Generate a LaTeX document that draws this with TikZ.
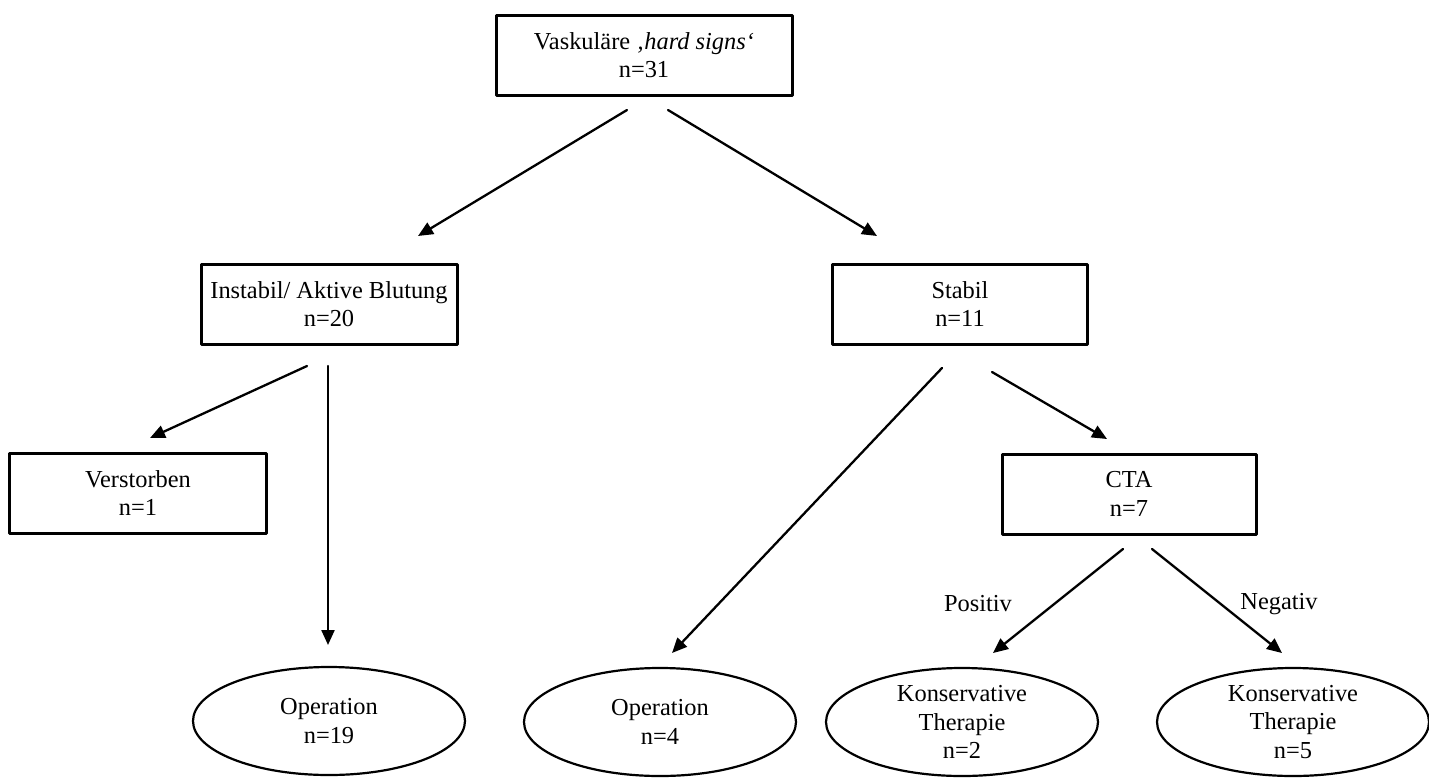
\documentclass[tikz,border=0pt]{standalone}
\usepackage{fontspec}
\setmainfont{Liberation Serif}
\usetikzlibrary{arrows.meta,shapes.geometric}

\tikzset{
  txt/.style={font=\fontsize{24.4}{28.5}\selectfont, align=center, inner sep=0pt},
  box/.style={txt, draw, line width=3pt, minimum height=80pt},
  oval/.style={txt, draw, ellipse, line width=2.2pt, minimum width=272pt, minimum height=108pt},
  arr/.style={line width=2.3pt, -{Triangle[length=15pt,width=13pt]}}
}

\begin{document}
\begin{tikzpicture}[x=1pt,y=-1pt,line cap=round,line join=round]
  \useasboundingbox (0,0) rectangle (1429,779);
  % boxes
  \node[box, minimum width=296pt] (hard) at (644,55) {Vaskuläre \textit{‚hard signs‘}\\n=31};
  \node[box, minimum width=256pt] (instabil) at (329,304) {Instabil/ Aktive Blutung\\n=20};
  \node[box, minimum width=255pt] (stabil) at (960,304) {Stabil\\n=11};
  \node[box, minimum width=257pt] (verstorben) at (138,493) {Verstorben\\n=1};
  \node[box, minimum width=254pt] (cta) at (1129,494) {CTA\\n=7};
  % ovals
  \node[oval] (op19) at (329,721) {Operation\\n=19};
  \node[oval] (op4) at (660,722) {Operation\\n=4};
  \node[oval] (kons2) at (962,722) {Konservative\\Therapie\\n=2};
  \node[oval] (kons5) at (1293,722) {Konservative\\Therapie\\n=5};
  % arrow ends
  \coordinate (hard-l) at (627,110);
  \coordinate (hard-r) at (668,110);
  \coordinate (instabil-in) at (418,236);
  \coordinate (stabil-in) at (877,236);
  \coordinate (instabil-l) at (307,366);
  \coordinate (instabil-r) at (328,366);
  \coordinate (verstorben-in) at (150,438);
  \coordinate (op19-in) at (328,645);
  \coordinate (stabil-l) at (942,368);
  \coordinate (stabil-r) at (992,372);
  \coordinate (op4-in) at (672,653);
  \coordinate (cta-in) at (1107,439);
  \coordinate (cta-l) at (1123,549);
  \coordinate (cta-r) at (1152,549);
  \coordinate (kons2-in) at (993,653);
  \coordinate (kons5-in) at (1282,653);
  % arrows
  \draw[arr] (hard-l) -- (instabil-in);
  \draw[arr] (hard-r) -- (stabil-in);
  \draw[arr] (instabil-l) -- (verstorben-in);
  \draw[arr] (instabil-r) -- (op19-in);
  \draw[arr] (stabil-l) -- (op4-in);
  \draw[arr] (stabil-r) -- (cta-in);
  \draw[arr] (cta-l) -- (kons2-in);
  \draw[arr] (cta-r) -- (kons5-in);
  % labels
  \node[txt] (positiv) at (978,604) {Positiv};
  \node[txt] (negativ) at (1279,604) {Negativ};
\end{tikzpicture}
\end{document}
